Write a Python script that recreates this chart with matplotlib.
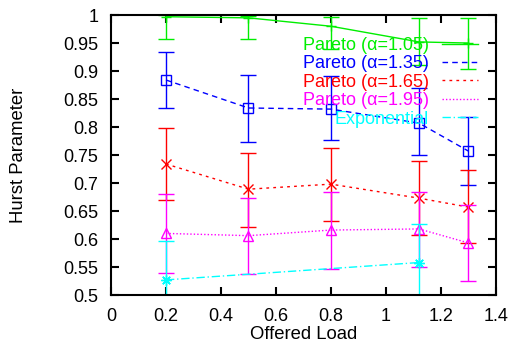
import matplotlib
matplotlib.use("Agg")
import matplotlib.pyplot as plt
from matplotlib.lines import Line2D
import numpy as np

plt.rcParams['font.family'] = ['Liberation Sans', 'DejaVu Sans']

load = [0.2, 0.5, 0.8, 1.12, 1.3]

# Hurst estimates with lower / upper interval bounds
h105 = [0.997, 0.995, 0.980, 0.952, 0.950]
h105_lo = [0.957, 0.957, 0.939, 0.910, 0.904]
h105_hi = [1.000, 0.999, 0.997, 0.995, 0.995]

h135 = [0.884, 0.834, 0.832, 0.807, 0.757]
h135_lo = [0.834, 0.773, 0.777, 0.750, 0.696]
h135_hi = [0.934, 0.893, 0.891, 0.870, 0.818]

h165 = [0.734, 0.689, 0.698, 0.673, 0.657]
h165_lo = [0.670, 0.621, 0.632, 0.607, 0.592]
h165_hi = [0.798, 0.754, 0.762, 0.739, 0.723]

h195 = [0.610, 0.606, 0.616, 0.618, 0.593]
h195_lo = [0.539, 0.537, 0.546, 0.550, 0.525]
h195_hi = [0.680, 0.674, 0.684, 0.684, 0.660]

exp_load = [0.2, 1.12]
h_exp = [0.527, 0.558]
h_exp_lo = [0.500, 0.500]
h_exp_hi = [0.596, 0.627]

asterisk = (8, 2, 0)
series = [
    ("Pareto (\u03b1=1.05)", load, h105, h105_lo, h105_hi, "#00ee00", "-", "+"),
    ("Pareto (\u03b1=1.35)", load, h135, h135_lo, h135_hi, "#0000ff", (0, (4, 3)), "s"),
    ("Pareto (\u03b1=1.65)", load, h165, h165_lo, h165_hi, "#ff0000", (0, (2, 3)), "x"),
    ("Pareto (\u03b1=1.95)", load, h195, h195_lo, h195_hi, "#ff00ff", (0, (1, 1.5)), "^"),
    ("Exponential", exp_load, h_exp, h_exp_lo, h_exp_hi, "#00ffff", (0, (6, 2, 1, 2)), asterisk),
]

fig = plt.figure(figsize=(5.1, 3.42), dpi=100)
ax = fig.add_axes([0.2176, 0.1374, 0.9725 - 0.2176, 0.956 - 0.1374])

handles = []
for name, xs, ys, lo, hi, col, ls, mk in series:
    ys = np.array(ys)
    yerr = [ys - np.array(lo), np.array(hi) - ys]
    ax.errorbar(xs, ys, yerr=yerr, fmt='none', ecolor=col, elinewidth=1.0,
                capsize=6, capthick=1.0)
    ax.plot(xs, ys, color=col, linestyle=ls, linewidth=1.0)
    ax.plot(xs, ys, linestyle='none', marker=mk, markersize=7.5,
            markerfacecolor='none', markeredgecolor=col, markeredgewidth=1.0)
    handles.append(Line2D([], [], color=col, linestyle=ls, linewidth=1.0))

leg = ax.legend(handles, [s[0] for s in series], loc='upper right',
                bbox_to_anchor=(0.953, 0.922), frameon=False, markerfirst=False,
                fontsize=13, handlelength=2.0, handletextpad=0.7,
                labelspacing=0.08, borderpad=0, borderaxespad=0)
for txt, s in zip(leg.get_texts(), series):
    txt.set_color(s[5])

ax.set_xlim(0, 1.4)
ax.set_ylim(0.5, 1.0)
ax.set_xticks(np.arange(0, 1.41, 0.2))
ax.set_xticklabels(["0", "0.2", "0.4", "0.6", "0.8", "1", "1.2", "1.4"])
ax.set_yticks(np.arange(0.5, 1.001, 0.05))
ax.set_yticklabels(["0.5", "0.55", "0.6", "0.65", "0.7", "0.75", "0.8",
                    "0.85", "0.9", "0.95", "1"])
ax.tick_params(direction='in', top=True, right=True, length=6, width=1.5,
               labelsize=13, pad=9)
for sp in ax.spines.values():
    sp.set_linewidth(1.5)

ax.set_xlabel("Offered Load", fontsize=13.3, labelpad=1)
ax.set_ylabel("Hurst Parameter", fontsize=13.3, labelpad=26)

fig.savefig("out.png", dpi=100)
